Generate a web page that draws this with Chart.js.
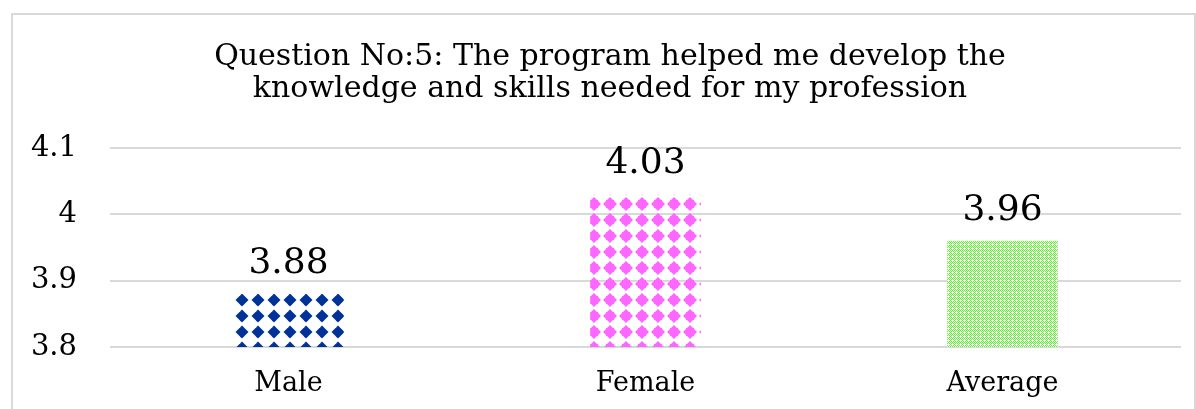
<!DOCTYPE html>
<html>
<head>
<meta charset="utf-8">
<script src="https://cdn.jsdelivr.net/npm/chart.js@4.4.1/dist/chart.umd.min.js"></script>
<style>
  html, body { margin: 0; padding: 0; background: #fff; }
  #wrap { width: 1196px; height: 409px; }
</style>
</head>
<body>
<div id="wrap"><canvas id="chart" width="1196" height="409"></canvas></div>
<script>
const categories = ["Male", "Female", "Average"];
const scores = [3.88, 4.03, 3.96];
const yTicks = [3.8, 3.9, 4.0, 4.1];
const titleLines = [
  "Question No:5: The program helped me develop the",
  "knowledge and skills needed for my profession"
];

const FONT = "'DejaVu Serif', 'Liberation Serif', serif";

// diamond dot tiles on a 16px grid, with a square core so they look like the chunky pixel stars
function dotPattern(color, half, core) {
  const c = document.createElement("canvas");
  c.width = 16; c.height = 16;
  const g = c.getContext("2d");
  g.fillStyle = color;
  for (const dx of [-16, 0, 16]) {
    for (const dy of [-16, 0, 16]) {
      const cx = 2 + dx, cy = 12 + dy;
      g.beginPath();
      g.moveTo(cx, cy - half);
      g.lineTo(cx + half, cy);
      g.lineTo(cx, cy + half);
      g.lineTo(cx - half, cy);
      g.closePath();
      g.fill();
      g.fillRect(cx - core / 2, cy - core / 2, core, core);
    }
  }
  return g.createPattern(c, "repeat");
}

function checkerPattern(color) {
  const c = document.createElement("canvas");
  c.width = 8; c.height = 8;
  const g = c.getContext("2d");
  g.fillStyle = "#fff";
  g.fillRect(0, 0, 8, 8);
  g.fillStyle = color;
  for (let y = 0; y < 8; y++) {
    for (let x = 0; x < 8; x++) {
      if ((x + y) % 2 === 0 && !(x % 4 === 0 && y % 4 === 0)) g.fillRect(x, y, 1, 1);
    }
  }
  return g.createPattern(c, "repeat");
}

const ctx = document.getElementById("chart").getContext("2d");
const fills = [
  dotPattern("#003399", 6.5, 6),
  dotPattern("#FF66FF", 7, 8),
  checkerPattern("#5CF52A")
];

const frame = {
  id: "frame",
  beforeDraw(chart) {
    const c = chart.ctx;
    c.save();
    c.strokeStyle = "#d9d9d9";
    c.lineWidth = 2;
    c.strokeRect(12, 14, 1183, 420);
    c.restore();
  }
};

// title drawn by hand so it can sit off-centre like the original
const titleText = {
  id: "titleText",
  afterDraw(chart) {
    const c = chart.ctx;
    c.save();
    c.font = "30px " + FONT;
    c.fillStyle = "#000";
    c.textAlign = "center";
    c.textBaseline = "alphabetic";
    titleLines.forEach((line, i) => c.fillText(line, 610, 65 + i * 32));
    c.restore();
  }
};

const valueLabels = {
  id: "valueLabels",
  afterDatasetsDraw(chart) {
    const c = chart.ctx;
    const meta = chart.getDatasetMeta(0);
    c.save();
    c.font = "36px " + FONT;
    c.fillStyle = "#000";
    c.textAlign = "center";
    c.textBaseline = "alphabetic";
    meta.data.forEach((bar, i) => {
      c.fillText(scores[i].toFixed(2), bar.x, bar.y - 21);
    });
    c.restore();
  }
};

new Chart(ctx, {
  type: "bar",
  data: {
    labels: categories,
    datasets: [{
      data: scores,
      backgroundColor: fills,
      borderWidth: 0,
      categoryPercentage: 1,
      barPercentage: 0.31
    }]
  },
  options: {
    responsive: false,
    animation: false,
    layout: { padding: { left: 15, right: 15, top: 148, bottom: 0 } },
    plugins: {
      legend: { display: false },
      tooltip: { enabled: false },
      title: { display: false }
    },
    scales: {
      x: {
        afterFit(axis) { axis.height = 62; },
        grid: { display: false, drawTicks: false },
        border: { display: false },
        ticks: { color: "#000", font: { family: FONT, size: 27 }, padding: 21 }
      },
      y: {
        min: 3.8,
        max: 4.1,
        afterBuildTicks(axis) {
          axis.ticks = yTicks.map(v => ({ value: v }));
        },
        afterFit(axis) { axis.width = 95; },
        grid: { color: "#d9d9d9", lineWidth: 2, drawTicks: false },
        border: { display: false },
        ticks: {
          color: "#000",
          font: { family: FONT, size: 29 },
          padding: 33,
          callback: v => String(Math.round(v * 10) / 10)
        }
      }
    }
  },
  plugins: [frame, titleText, valueLabels]
});
</script>
</body>
</html>
